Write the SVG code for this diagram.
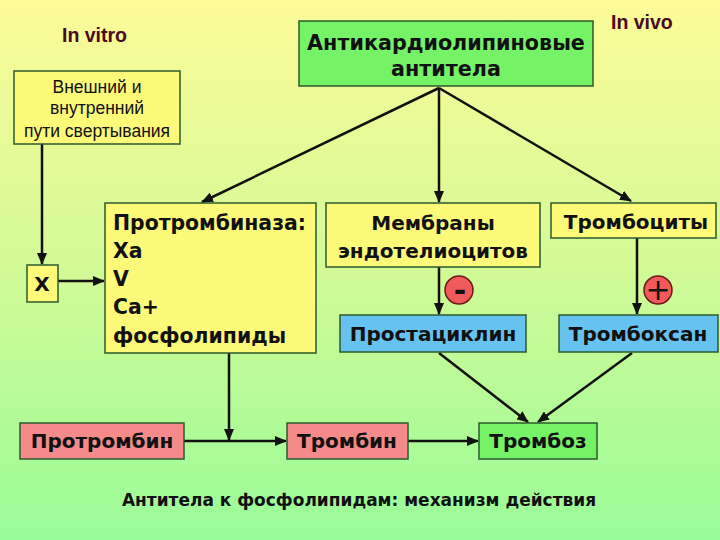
<svg xmlns="http://www.w3.org/2000/svg" width="720" height="540" viewBox="0 0 720 540">
<defs>
<linearGradient id="bg" x1="0" y1="0" x2="0" y2="1">
<stop offset="0" stop-color="#fcfb98"/>
<stop offset="0.5" stop-color="#d2fa97"/>
<stop offset="1" stop-color="#98fc98"/>
</linearGradient>
<marker id="ah" markerUnits="userSpaceOnUse" markerWidth="12" markerHeight="10" refX="11" refY="5" orient="auto">
<path d="M0,0 L12,5 L0,10 z" fill="#111"/>
</marker>
<style>
.box{stroke:#2d5a2d;stroke-width:1.5}
.y{fill:#fdfa7a}
.g{fill:#76f266}
.b{fill:#66c2ee}
.p{fill:#f48a8a}
.t{font-family:"DejaVu Sans","Liberation Sans",sans-serif;font-weight:bold;fill:#111}
.r{font-family:"Liberation Sans",Arial,sans-serif;fill:#111;font-size:17.5px;text-anchor:middle}
.c{text-anchor:middle}
.lbl{font-family:"Liberation Sans",Arial,sans-serif;font-weight:bold;fill:#4a0a1e;font-size:19.5px}
.ln{stroke:#111;stroke-width:2.5;fill:none}
.sign{fill:#f05a5a;stroke:#6a1a1a;stroke-width:1.5}
</style>
</defs>
<rect x="0" y="0" width="720" height="540" fill="url(#bg)"/>

<text class="lbl" x="62" y="42">In vitro</text>
<text class="lbl" x="611" y="29">In vivo</text>

<g id="connectors">
<path class="ln" d="M42,144 V264" marker-end="url(#ah)"/>
<path class="ln" d="M58,281 H104" marker-end="url(#ah)"/>
<path class="ln" d="M439,88 L202,202" marker-end="url(#ah)"/>
<path class="ln" d="M439,88 V202" marker-end="url(#ah)"/>
<path class="ln" d="M439,88 L631,201" marker-end="url(#ah)"/>
<path class="ln" d="M439,267 V314" marker-end="url(#ah)"/>
<path class="ln" d="M637,238 V314" marker-end="url(#ah)"/>
<path class="ln" d="M439,353 L528,422" marker-end="url(#ah)"/>
<path class="ln" d="M632,353 L538,422" marker-end="url(#ah)"/>
<path class="ln" d="M229,353 V440" marker-end="url(#ah)"/>
<path class="ln" d="M184,441 H286" marker-end="url(#ah)"/>
<path class="ln" d="M408,441 H478" marker-end="url(#ah)"/>
</g>

<g id="antibodies">
<rect class="box g" x="299" y="21" width="294" height="65"/>
<text class="t c" x="446" y="50" font-size="20.7">Антикардиолипиновые</text>
<text class="t c" x="446" y="76" font-size="20.7">антитела</text>
</g>

<g id="pathways">
<rect class="box y" x="14" y="71" width="166" height="73"/>
<text class="r" x="97" y="93">Внешний и</text>
<text class="r" x="97" y="114">внутренний</text>
<text class="r" x="97" y="137">пути свертывания</text>
</g>

<g id="x">
<rect class="box y" x="27" y="265" width="31" height="37"/>
<text class="t c" x="42" y="291" font-size="20">X</text>
</g>

<g id="prothrombinase">
<rect class="box y" x="105" y="203" width="211" height="150"/>
<text class="t" x="113" y="230" font-size="20.4">Протромбиназа:</text>
<text class="t" x="113" y="258" font-size="20.4">Xa</text>
<text class="t" x="113" y="286" font-size="20.4">V</text>
<text class="t" x="113" y="314" font-size="20.4">Ca+</text>
<text class="t" x="113" y="343" font-size="20.4">фосфолипиды</text>
</g>

<g id="membranes">
<rect class="box y" x="326" y="203" width="214" height="64"/>
<text class="t c" x="433" y="230" font-size="20">Мембраны</text>
<text class="t c" x="433" y="258" font-size="20">эндотелиоцитов</text>
</g>

<g id="platelets">
<rect class="box y" x="551" y="203" width="165" height="35"/>
<text class="t c" x="636" y="229" font-size="20">Тромбоциты</text>
</g>

<g id="minus">
<circle class="sign" cx="459" cy="290" r="14"/>
<text class="t c" x="460" y="301" font-size="30">-</text>
</g>

<g id="plus">
<circle class="sign" cx="658" cy="290" r="14"/>
<text class="c" x="658" y="300" font-size="30" font-family="DejaVu Sans, sans-serif" fill="#111">+</text>
</g>

<g id="prostacyclin">
<rect class="box b" x="340" y="315" width="186" height="37"/>
<text class="t c" x="433" y="341" font-size="20">Простациклин</text>
</g>

<g id="thromboxane">
<rect class="box b" x="559" y="315" width="159" height="37"/>
<text class="t c" x="638" y="341" font-size="20">Тромбоксан</text>
</g>

<g id="prothrombin">
<rect class="box p" x="20" y="423" width="164" height="36"/>
<text class="t c" x="102" y="448" font-size="20">Протромбин</text>
</g>

<g id="thrombin">
<rect class="box p" x="287" y="423" width="121" height="36"/>
<text class="t c" x="347" y="448" font-size="20">Тромбин</text>
</g>

<g id="thrombosis">
<rect class="box g" x="479" y="423" width="118" height="36"/>
<text class="t c" x="538" y="448" font-size="20">Тромбоз</text>
</g>

<text class="t c" x="359" y="506" font-size="17">Антитела к фосфолипидам: механизм действия</text>
</svg>
